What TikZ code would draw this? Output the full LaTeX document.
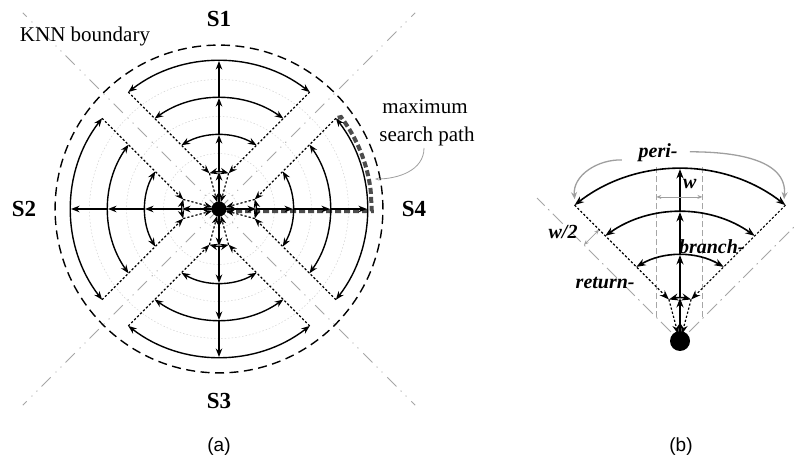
\documentclass[tikz,border=0pt]{standalone}
\usepackage{fontspec}
\setmainfont{Liberation Serif}
\newfontfamily\capfont{Liberation Sans}
\usetikzlibrary{arrows.meta,calc}
\tikzset{
  arcl/.style={line width=1.4pt, black},
  tip/.style={-{Stealth[length=8.5pt,width=6.5pt]}},
  dtip/.style={{Stealth[length=8.5pt,width=6.5pt]}-{Stealth[length=8.5pt,width=6.5pt]}},
  ret/.style={line width=1.2pt, dash pattern=on 2.2pt off 2pt},
  faint/.style={gray!35, line width=0.5pt, dash pattern=on 1.5pt off 2pt},
  diagA/.style={gray!70, line width=1pt, dash pattern=on 13pt off 6pt on 1pt off 6pt on 1pt off 7pt},
  diagB/.style={gray!70, line width=1pt, dash pattern=on 14pt off 5pt on 1.5pt off 5pt},
  knn/.style={line width=1.4pt, dash pattern=on 9pt off 5.5pt},
  maxpath/.style={black!70, line width=4pt, dash pattern=on 6pt off 3pt},
  note/.style={gray!75, line width=0.8pt},
  smalltips/.style={{Stealth[length=5pt,width=4pt]}-{Stealth[length=5pt,width=4pt]}},
  lab/.style={font=\fontsize{23}{27}\selectfont\bfseries, inner sep=0pt},
  ital/.style={font=\fontsize{20}{24}\selectfont\bfseries\itshape, inner sep=0pt},
  serif/.style={font=\fontsize{21}{25}\selectfont, inner sep=0pt},
  sublab/.style={font=\capfont\fontsize{19}{23}\selectfont, inner sep=0pt},
}
\newcommand\sectorparts[2]{%
  \foreach \k in {1,2,3,4}{
    \pgfmathsetmacro\bb{45-asin(0.5/\k)}
    \draw[arcl,dtip] ({#1+\bb}:\k) arc[start angle={#1+\bb}, end angle={#1-\bb}, radius=\k];
    \draw[arcl,tip,line width=#2] ({#1}:{\k-1}) -- ({#1}:\k);
  }
  \foreach \sg in {1,-1}{
    \pgfmathsetmacro\bfar{45-asin(0.125)}
    \pgfmathsetmacro\bnear{45-asin(0.5)}
    \draw[ret,tip] ({#1+\sg*\bfar}:4) -- ({#1+\sg*\bnear}:1);
    \draw[ret,tip,shorten >=7pt] ({#1+\sg*\bnear}:1) -- (0,0);
  }
}
\begin{document}
\begin{tikzpicture}[x=1pt,y=1pt]
\useasboundingbox (0,0) rectangle (794,463);
\clip (0,0) rectangle (794,463);

% ---------------- (a) ----------------
\begin{scope}[shift={(219,254)}, x=37pt, y=37pt]
  \foreach \r in {0.5,1.5,2.5,3.5} \draw[faint] (0,0) circle[radius=\r];
  \foreach \a in {45,135,225,315} \draw[diagA] (0,0) -- (\a:7.5);
  \draw[knn] (0,0) circle[radius=4.43];
  \draw[maxpath] (0.22,-0.06) -- (4.13,-0.06) -- (7:4.13)
     arc[start angle=7, end angle=37, radius=4.13] -- ({45-asin(0.125)}:4);
  \foreach \al in {0,90,180,270} {\sectorparts{\al}{1.4pt}}
  \fill (0,0) circle[radius=7.5pt];
\end{scope}

\node[serif, anchor=base] (knn) at (85,421) {KNN boundary};
\node[lab] (s1) at (219,444) {S1};
\node[lab] (s2) at (24,254) {S2};
\node[lab] (s3) at (219,62) {S3};
\node[lab] (s4) at (414,254) {S4};
\node[serif, anchor=base] (mx1) at (425,349) {maximum};
\node[serif, anchor=base] (mx2) at (427,321) {search path};
\coordinate (mxtip) at (375,284);
\draw[note, -{Stealth[length=4pt,width=3pt]}] (424,315) to[out=-90,in=0] (mxtip);
\node[sublab] (la) at (219,16) {(a)};

% ---------------- (b) ----------------
\begin{scope}[shift={(680,122)}, x=43pt, y=43pt,
   tip/.style={-{Stealth[length=9.5pt,width=7pt]}},
   dtip/.style={{Stealth[length=9.5pt,width=7pt]}-{Stealth[length=9.5pt,width=7pt]}},
   arcl/.style={line width=1.6pt, black}]
  \draw[diagB] (135:0.3) -- (135:4.7);
  \draw[diagB] (45:0.3) -- (45:4.7);
  \draw[gray!70, line width=0.8pt, dash pattern=on 6pt off 3pt] (-0.55,0.55) -- (-0.55,4.05);
  \draw[gray!70, line width=0.8pt, dash pattern=on 6pt off 3pt] (0.52,0.55) -- (0.52,4.05);
  \sectorparts{90}{2pt}
  \fill (0,0) circle[radius=10pt];
  \draw[note, smalltips] (-0.55,3.35) -- (0.52,3.35);
  \node[ital] (w) at (0.23,3.65) {w};
  \coordinate (hw1) at (135:3.16);
  \coordinate (hw2) at ($(135:3.16)+(45:0.5)$);
  \draw[note, smalltips] (hw1) -- (hw2);
  \node[ital] (w2) at (-2.72,2.53) {w/2};
  \node[ital] (peri) at (-0.51,4.37) {peri-};
  \node[ital] (branch) at (0.74,2.19) {branch-};
  \node[ital] (return) at (-1.74,1.35) {return-};
  \draw[note, line width=1.3pt, -{Stealth[length=7pt,width=6pt]}] (-1.35,4.21) to[out=178,in=95] (-2.45,3.3);
  \draw[note, line width=1.3pt, -{Stealth[length=7pt,width=6pt]}] (0.23,4.4) to[out=0,in=85] (2.42,3.3);
\end{scope}
\node[sublab] (lb) at (681,16) {(b)};
\end{tikzpicture}
\end{document}
